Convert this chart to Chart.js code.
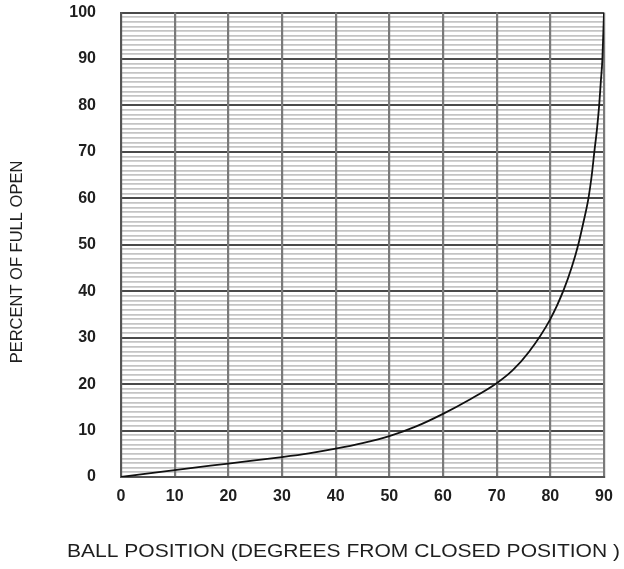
<!DOCTYPE html>
<html>
<head>
<meta charset="utf-8">
<script src="https://cdn.jsdelivr.net/npm/chart.js@4.4.1/dist/chart.umd.min.js"></script>
<style>
  html, body { margin: 0; padding: 0; background: #ffffff; }
  #wrap { position: relative; width: 624px; height: 569px; }
</style>
</head>
<body>
<div id="wrap"><canvas id="chart" width="624" height="569"></canvas></div>
<script>
// Ball valve characteristic: opening angle vs. flow, percent of full open
const ballAngles   = [0, 10, 20, 30, 35, 40, 45, 50, 55, 60, 65, 70, 73, 76, 80, 82.4, 84, 85.2, 86.2, 87.1, 87.7, 88.2, 88.7, 89.1, 89.4, 89.7, 90];
const percentOpen  = [0, 1.5, 2.9, 4.3, 5.1, 6.1, 7.3, 8.8, 10.9, 13.6, 16.7, 20.2, 23.0, 26.9, 34.0, 40, 45.2, 50, 55, 60, 64.8, 70, 75, 80, 85, 90, 100];
const xTickValues  = [0, 10, 20, 30, 40, 50, 60, 70, 80, 90];
const yTickValues  = [0, 10, 20, 30, 40, 50, 60, 70, 80, 90, 100];
const xTitle = 'BALL POSITION (DEGREES FROM CLOSED POSITION )';
const yTitle = 'PERCENT OF FULL OPEN';

const points = ballAngles.map((a, i) => ({ x: a, y: percentOpen[i] }));

const axisTitles = {
  id: 'axisTitles',
  afterDraw(chart) {
    const ctx = chart.ctx;
    ctx.save();
    ctx.fillStyle = '#1e1e1e';
    ctx.textBaseline = 'middle';
    // horizontal title under the x axis
    ctx.font = '18px "Liberation Sans", Arial, sans-serif';
    const w = ctx.measureText(xTitle).width;
    ctx.translate(67, 552);
    ctx.scale(553 / w, 1);
    ctx.textAlign = 'left';
    ctx.fillText(xTitle, 0, 0);
    ctx.restore();
    // vertical title beside the y axis
    ctx.save();
    ctx.fillStyle = '#1e1e1e';
    ctx.font = '16.5px "Liberation Sans", Arial, sans-serif';
    ctx.textAlign = 'center';
    ctx.textBaseline = 'middle';
    ctx.translate(17, 262);
    ctx.rotate(-Math.PI / 2);
    ctx.fillText(yTitle, 0, 0);
    ctx.restore();
  }
};

new Chart(document.getElementById('chart'), {
  type: 'line',
  data: {
    datasets: [{
      data: points,
      borderColor: '#111111',
      borderWidth: 1.8,
      pointRadius: 0,
      fill: false,
      cubicInterpolationMode: 'monotone'
    }]
  },
  options: {
    responsive: false,
    animation: false,
    layout: { padding: { left: 0, top: 12.5, right: 20, bottom: 0 } },
    plugins: { legend: { display: false }, tooltip: { enabled: false } },
    scales: {
      x: {
        type: 'linear',
        min: 0, max: 90,
        afterBuildTicks(scale) { scale.ticks = xTickValues.map(v => ({ value: v })); },
        afterFit(scale) { scale.height = 92; scale.paddingLeft = 0; scale.paddingRight = 0; },
        border: { display: true, color: '#555555', width: 2 },
        grid: { z: -1, color: '#7a7a7a', lineWidth: 2.2, drawTicks: false },
        ticks: {
          padding: 10,
          color: '#1e1e1e',
          font: { family: '"Liberation Sans", Arial, sans-serif', size: 16, weight: 'bold' },
          maxRotation: 0
        }
      },
      y: {
        type: 'linear',
        min: 0, max: 100,
        afterBuildTicks(scale) {
          const t = [];
          for (let v = 0; v <= 100; v++) t.push({ value: v });
          scale.ticks = t;
        },
        afterFit(scale) { scale.width = 121; scale.paddingTop = 0; scale.paddingBottom = 0; },
        border: { display: true, color: '#555555', width: 2 },
        grid: {
          z: -2,
          drawTicks: false,
          color: c => (c.tick && yTickValues.includes(c.tick.value)) ? '#4a4a4a' : '#c4c4c4',
          lineWidth: c => (c.tick && yTickValues.includes(c.tick.value)) ? 2 : 1.8
        },
        ticks: {
          autoSkip: false,
          padding: 25,
          color: '#1e1e1e',
          font: { family: '"Liberation Sans", Arial, sans-serif', size: 16, weight: 'bold' },
          callback: v => yTickValues.includes(v) ? String(v) : ''
        }
      }
    }
  },
  plugins: [axisTitles]
});
</script>
</body>
</html>
